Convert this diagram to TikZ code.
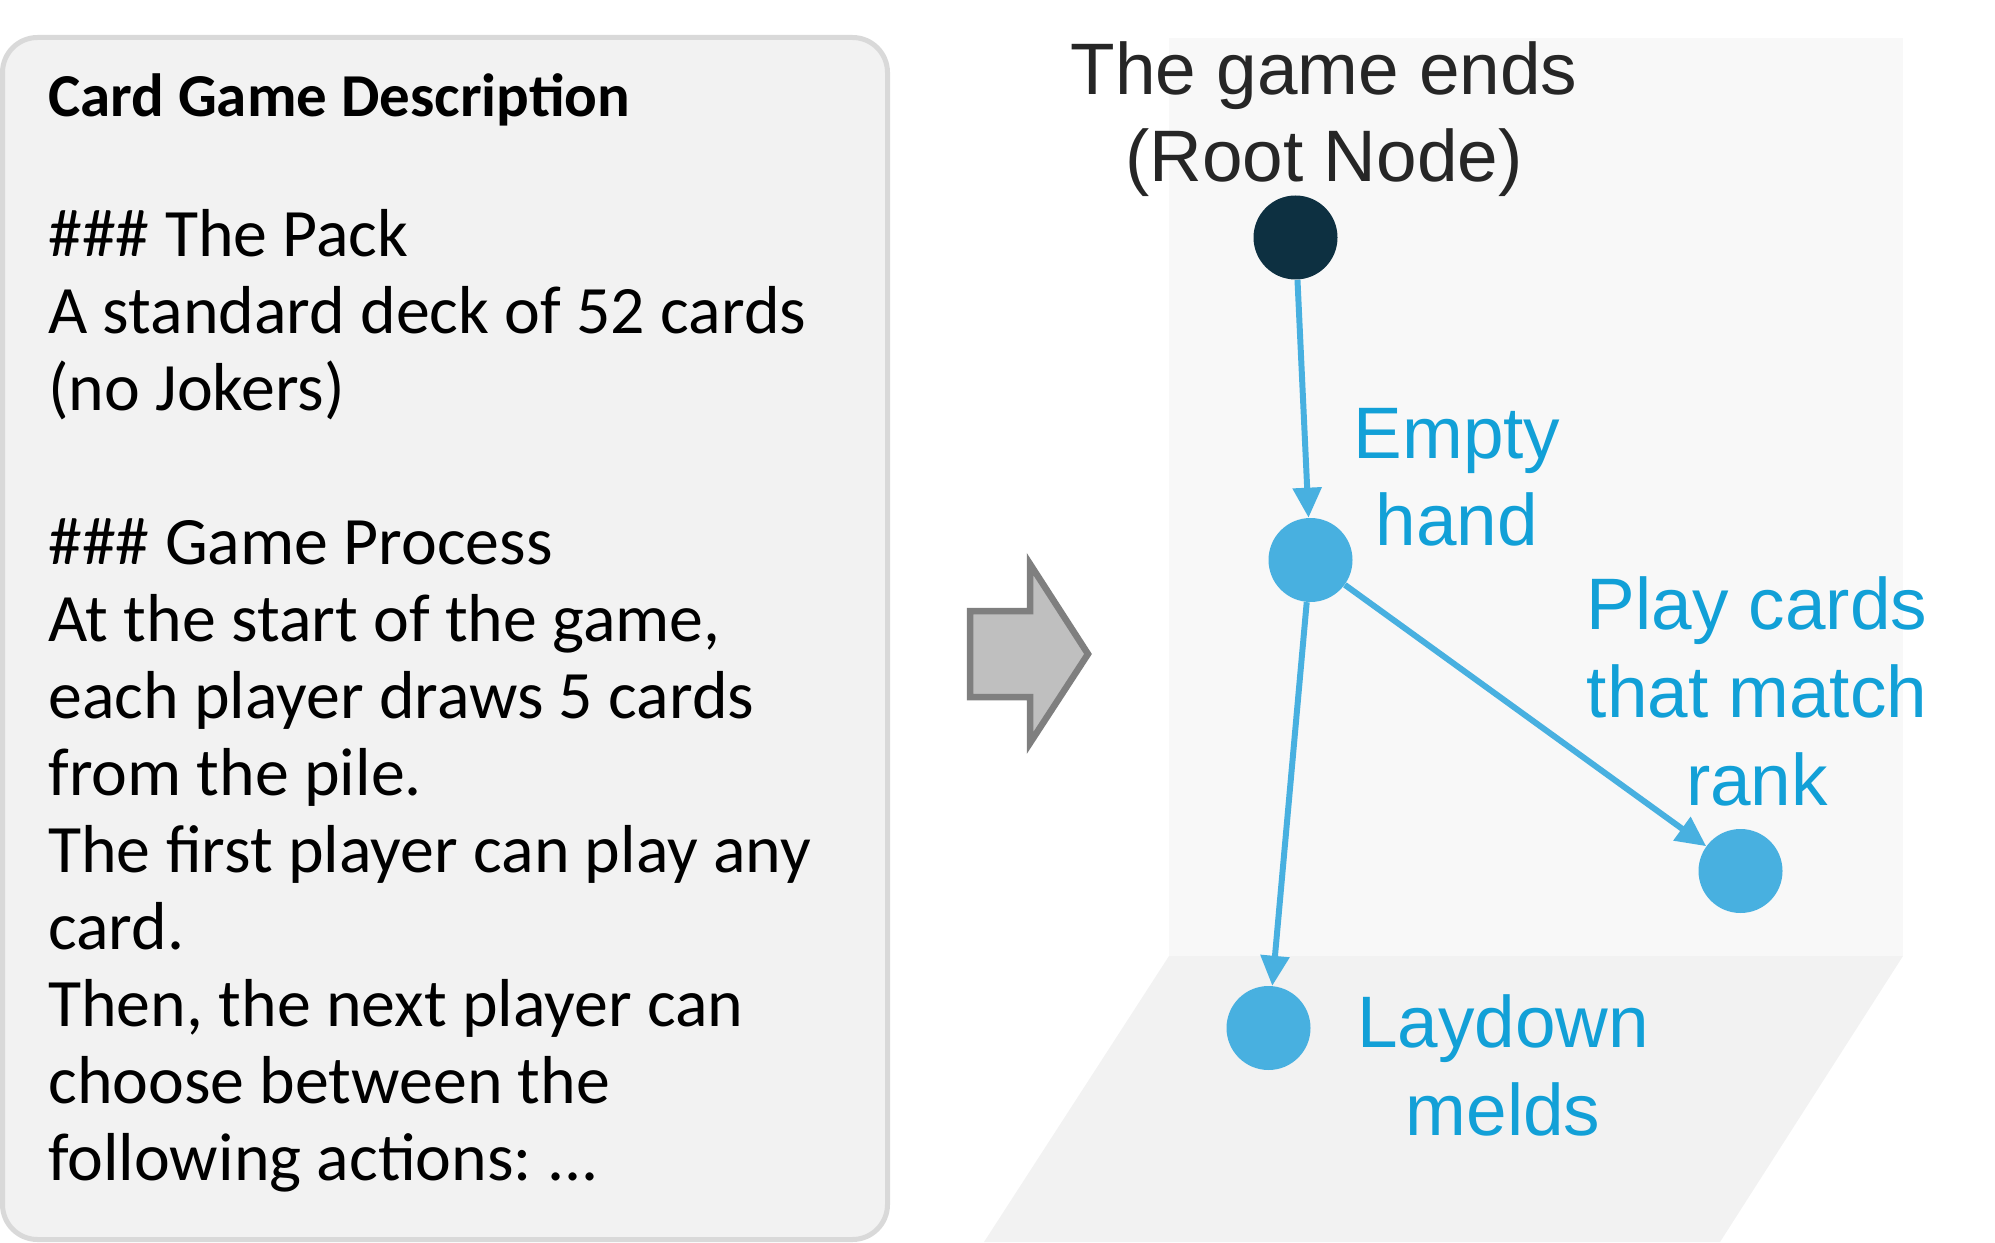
\documentclass[tikz,border=0pt]{standalone}
\usepackage{fontspec}
\setmainfont{Carlito}
\newfontfamily\labelfont{Liberation Sans}
\usetikzlibrary{arrows.meta}
\frenchspacing

\definecolor{rootblue}{HTML}{0D3041}
\definecolor{nodeblue}{HTML}{48B0E0}
\definecolor{textblue}{HTML}{12A0D7}
\definecolor{darktext}{HTML}{262626}
\definecolor{boxgray}{HTML}{F2F2F2}
\definecolor{boxline}{HTML}{D9D9D9}
\definecolor{wallgray}{HTML}{F8F8F8}
\definecolor{arrowfill}{HTML}{BFBFBF}
\definecolor{arrowline}{HTML}{7F7F7F}

\tikzset{
  movenode/.style={circle,minimum size=1.68cm,inner sep=0pt,fill=nodeblue},
  treearrow/.style={draw=nodeblue,line width=3.4pt,
    -{Triangle[length=0.6cm,width=0.56cm]}},
  movelabel/.style={font=\labelfont\fontsize{41.5}{49.8}\selectfont,
    align=center,anchor=base,inner sep=0pt,text=textblue}
}

\begin{document}
\begin{tikzpicture}

\useasboundingbox (0,0) rectangle (39.9,24.84);

% Description box
\draw[fill=boxgray,draw=boxline,line width=0.1cm,rounded corners=0.7cm]
  (0.05,0.05) rectangle (17.75,24.09);

\node[anchor=base west,inner sep=0pt,
  font=\fontsize{34.7}{40}\selectfont\bfseries] (title) at (0.96,22.5)
{Card Game Description};

% anchored at the last line
\node[anchor=base west,inner sep=0pt,align=left,
  font=\fontsize{38.6}{43.8}\selectfont] (desc) at (0.96,1.24)
{\#\#\# The Pack\\
A standard deck of 52 cards\\
(no Jokers)\\[43.8pt]
\#\#\# Game Process\\
At the start of the game,\\
each player draws 5 cards\\
from the pile.\\
The first player can play any\\
card.\\
Then, the next player can\\
choose between the\\
following actions: ...};

% Arrow
\draw[fill=arrowfill,draw=arrowline,line width=0.13cm,line join=miter]
  (19.40,12.62) -- (20.60,12.62) -- (20.60,13.56) -- (21.76,11.76)
  -- (20.60,9.98) -- (20.60,10.90) -- (19.40,10.90) -- cycle;

% Planes
\fill[wallgray] (23.38,5.72) rectangle (38.06,24.08);
\fill[boxgray] (23.38,5.72) -- (38.06,5.72) -- (34.40,0) -- (19.68,0) -- cycle;

% Tree
\node[movenode,fill=rootblue] (root) at (25.91,20.09) {};
\node[movenode] (empty) at (26.21,13.64) {};
\node[movenode] (play) at (34.81,7.42) {};
\node[movenode] (laydown) at (25.37,4.28) {};

\draw[treearrow] (root) -- (empty);
\draw[treearrow] (empty) -- (laydown);
\draw[treearrow] (empty) -- (play);

% labels, anchored at their last line
\node[movelabel,text=darktext] (rootlabel) at (26.48,21.2)
{The game ends\\(Root Node)};
\node[movelabel] (emptylabel) at (29.14,13.92) {Empty\\hand};
\node[movelabel] (playlabel) at (35.14,8.74) {Play cards\\that match\\rank};
\node[movelabel] (laydownlabel) at (30.06,2.14) {Laydown\\melds};

\end{tikzpicture}
\end{document}
